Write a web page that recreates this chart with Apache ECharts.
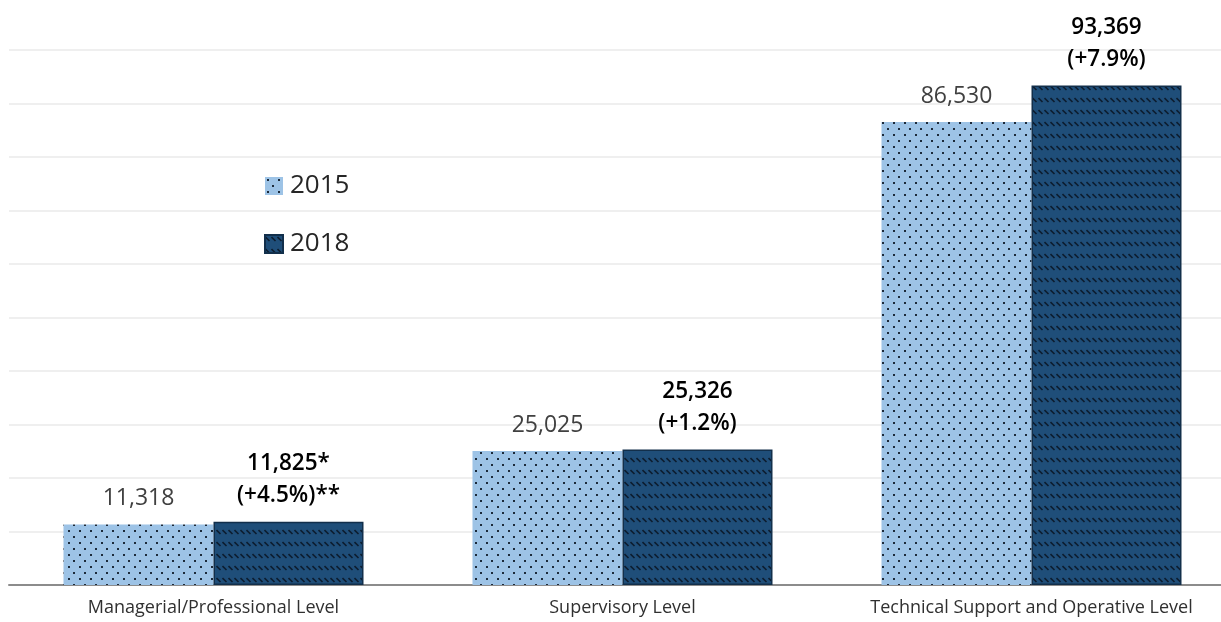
<!DOCTYPE html>
<html>
<head>
<meta charset="utf-8">
<script src="https://cdn.jsdelivr.net/npm/echarts@6/dist/echarts.min.js"></script>
<style>
  html, body { margin: 0; padding: 0; background: #ffffff; }
  #chart { width: 1221px; height: 622px; }
</style>
</head>
<body>
<div id="chart"></div>
<script>
// Employment by occupational level, 2015 vs 2018
const categories = ['Managerial/Professional Level', 'Supervisory Level', 'Technical Support and Operative Level'];
const values2015 = [11318, 25025, 86530];
const values2018 = [11825, 25326, 93369];
const change2018 = ['+4.5%', '+1.2%', '+7.9%'];
const valueNotes = ['*', '', ''];
const changeNotes = ['**', '', ''];
const seriesNames = ['2015', '2018'];

const FONT = '"Open Sans", "Noto Sans", sans-serif';

// Dotted fill for the 2015 bars
function dotPattern() {
  const c = document.createElement('canvas');
  c.width = 11; c.height = 12;
  const g = c.getContext('2d');
  g.fillStyle = '#9dc3e6';
  g.fillRect(0, 0, 11, 12);
  g.fillStyle = '#1c2a3a';
  g.fillRect(2, 2, 2, 2);
  g.fillRect(7, 8, 2, 2);
  return c;
}

// Banded back-slash hatch for the 2018 bars
function hatchPattern() {
  const c = document.createElement('canvas');
  c.width = 6; c.height = 12;
  const g = c.getContext('2d');
  g.fillStyle = '#1f4e79';
  g.fillRect(0, 0, 6, 12);
  g.strokeStyle = '#0d1d2f';
  g.lineWidth = 1.6;
  g.beginPath();
  g.moveTo(0.5, 2);
  g.lineTo(4.5, 6);
  g.stroke();
  return c;
}

const fmt = v => v.toLocaleString('en-US');

const chart = echarts.init(document.getElementById('chart'), null, { renderer: 'canvas' });

chart.setOption({
  backgroundColor: '#ffffff',
  animation: false,
  // the plot runs a little past the right edge of the page
  grid: { left: 9, top: 50, width: 1227, height: 535, containLabel: false, outerBoundsMode: 'none' },
  legend: {
    orient: 'vertical',
    left: 259,
    top: 168,
    itemWidth: 18,
    itemHeight: 18,
    itemGap: 32,
    icon: 'rect',
    textStyle: { fontFamily: FONT, fontSize: 26, color: '#262626', padding: [0, 0, 0, 2] },
    data: seriesNames
  },
  xAxis: {
    type: 'category',
    data: categories,
    axisLine: { lineStyle: { color: '#8c8c8c', width: 2 } },
    axisTick: { show: false },
    axisLabel: { interval: 0, fontFamily: FONT, fontSize: 18, color: '#303030', margin: 14 }
  },
  yAxis: {
    type: 'value',
    min: 0,
    max: 100000,
    interval: 10000,
    axisLabel: { show: false },
    axisLine: { show: false },
    axisTick: { show: false },
    splitLine: { lineStyle: { color: '#efefef', width: 2 } }
  },
  series: [
    {
      name: seriesNames[0],
      type: 'bar',
      data: values2015,
      barWidth: 150,
      barGap: '0%',
      itemStyle: { color: { image: dotPattern(), repeat: 'repeat' } },
      label: {
        show: true,
        position: 'top',
        distance: 10,
        fontFamily: FONT,
        fontSize: 23,
        fontWeight: 'normal',
        lineHeight: 32,
        color: '#404040',
        formatter: p => fmt(p.value)
      }
    },
    {
      name: seriesNames[1],
      type: 'bar',
      data: values2018,
      barWidth: 150,
      barGap: '0%',
      itemStyle: {
        color: { image: hatchPattern(), repeat: 'repeat' },
        borderColor: '#122f4b',
        borderWidth: 1.5
      },
      label: {
        show: true,
        position: 'top',
        distance: 10,
        fontFamily: FONT,
        fontSize: 22.5,
        fontWeight: 600,
        lineHeight: 32,
        color: '#000000',
        formatter: p => fmt(p.value) + valueNotes[p.dataIndex] + '\n(' + change2018[p.dataIndex] + ')' + changeNotes[p.dataIndex]
      }
    }
  ]
});
</script>
</body>
</html>
